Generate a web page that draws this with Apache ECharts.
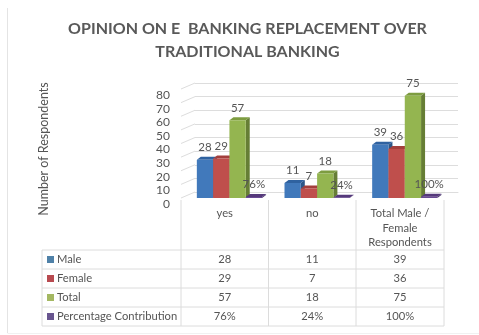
<!DOCTYPE html>
<html>
<head>
<meta charset="utf-8">
<style>html,body{margin:0;padding:0;background:#fff}#chart{width:479px;height:335px}</style>
<script src="https://cdn.jsdelivr.net/npm/echarts@6/dist/echarts.min.js"></script>
</head>
<body>
<div id="chart"></div>
<script>
const categories = ['yes', 'no', 'Total Male /\nFemale\nRespondents'];
const seriesNames = ['Male', 'Female', 'Total', 'Percentage Contribution'];
const male = [28, 11, 39];
const female = [29, 7, 36];
const total = [57, 18, 75];
// shares are stored as fractions, so on the respondents axis they sit almost on the floor
const share = [0.76, 0.24, 1];
const yTicks = [0, 10, 20, 30, 40, 50, 60, 70, 80];

const asPercent = v => Math.round(v * 100) + '%';

const FACE = ['#4179bb', '#bf4f4c', '#94b550', '#6a4a94'];
const SIDE = ['#2c5688', '#8a3633', '#667e35', '#46306a'];
const TOP = ['#2f62a0', '#a33f3c', '#7d9c40', '#55397b'];
const KEY = ['#4f81a8', '#b84a50', '#a4b862', '#68558f'];
const TEXT = '#555555';
const BORDER = '#dcdcdc';

// plot area of the front plane; the back wall is the same grid pushed up and right
const plot = { left: 181, right: 444, top: 89, bottom: 198 };
const wall = { dx: 14, dy: -6 };
const barDepth = { dx: 4, dy: -3 };

// table geometry
const tableX = [42, 181, 268.5, 356, 444];
const tableY = [250, 269, 288, 307, 326];
const barWidth = 16.3;

function bar3d(seriesIndex, values, format) {
  return {
    type: 'custom',
    name: seriesNames[seriesIndex],
    xAxisIndex: 0,
    yAxisIndex: 0,
    z: 5,
    clip: false,
    data: values.map((v, i) => [i, v, format(v)]),
    encode: { x: 0, y: 1 },
    renderItem(params, api) {
      const base = api.coord([api.value(0), 0]);
      const topPt = api.coord([api.value(0), api.value(1)]);
      const x0 = base[0] - 28 + seriesIndex * barWidth;
      const x1 = x0 + barWidth;
      const yb = base[1];
      const yt = topPt[1];
      const d = barDepth;
      return {
        type: 'group',
        children: [
          { type: 'polygon', shape: { points: [[x1, yt], [x1 + d.dx, yt + d.dy], [x1 + d.dx, yb + d.dy], [x1, yb]] }, style: { fill: SIDE[seriesIndex] } },
          { type: 'polygon', shape: { points: [[x0, yt], [x0 + d.dx, yt + d.dy], [x1 + d.dx, yt + d.dy], [x1, yt]] }, style: { fill: TOP[seriesIndex] } },
          { type: 'rect', shape: { x: x0, y: yt, width: barWidth, height: yb - yt }, style: { fill: FACE[seriesIndex] } },
          { type: 'text', z2: 10, style: { text: String(api.value(2)), x: x0 + barWidth / 2, y: yt - 12.5, align: 'center', verticalAlign: 'middle', fill: TEXT, font: '11.5px Lato' } }
        ]
      };
    }
  };
}

// diagonal floor ticks joining each front axis value to the back wall
const wallTicks = {
  type: 'custom',
  xAxisIndex: 0,
  yAxisIndex: 0,
  z: 1,
  silent: true,
  clip: false,
  data: yTicks.map(v => [0, v]),
  encode: { y: 1 },
  renderItem(params, api) {
    const y = api.coord([0, api.value(1)])[1];
    return {
      type: 'line',
      shape: { x1: plot.left, y1: y, x2: plot.left + wall.dx, y2: y + wall.dy },
      style: { stroke: '#dddddd', lineWidth: 1 }
    };
  }
};

const tableGraphics = [];
const addLine = (x1, y1, x2, y2, stroke = BORDER) => tableGraphics.push({
  type: 'line', silent: true,
  shape: { x1, y1, x2, y2 },
  style: { stroke, lineWidth: 1 }
});
tableY.forEach(y => addLine(tableX[0], y, tableX[4], y));
addLine(tableX[0], tableY[0], tableX[0], tableY[4]);
tableX.slice(1).forEach(x => addLine(x, 200, x, tableY[4]));
// thin frame along the left and bottom of the page
addLine(7.5, 8, 7.5, 333, '#e4e4e4');
addLine(7.5, 333.5, 479, 333.5, '#f1f1f1');

tableGraphics.push({
  type: 'text', silent: true, x: 44, y: 149, rotation: Math.PI / 2,
  style: { text: 'Number of Respondents', fill: TEXT, font: '12.5px Lato', align: 'center', verticalAlign: 'middle' }
});

const rows = [male, female, total, share.map(asPercent)];
rows.forEach((row, r) => {
  const cy = (tableY[r] + tableY[r + 1]) / 2;
  tableGraphics.push({ type: 'rect', silent: true, shape: { x: 47, y: cy - 3.5, width: 7, height: 7 }, style: { fill: KEY[r] } });
  tableGraphics.push({ type: 'text', silent: true, x: 57, y: cy, style: { text: seriesNames[r], fill: TEXT, font: '11.2px Lato', verticalAlign: 'middle' } });
  row.forEach((v, c) => {
    tableGraphics.push({ type: 'text', silent: true, x: (tableX[c + 1] + tableX[c + 2]) / 2, y: cy, style: { text: String(v), fill: TEXT, font: '11.2px Lato', align: 'center', verticalAlign: 'middle' } });
  });
});
categories.forEach((c, i) => {
  tableGraphics.push({ type: 'text', silent: true, x: (tableX[i + 1] + tableX[i + 2]) / 2, y: 206, style: { text: c, fill: TEXT, font: '11.2px Lato', lineHeight: 14.6, align: 'center', verticalAlign: 'top' } });
});

const chart = echarts.init(document.getElementById('chart'), null, { renderer: 'canvas' });
chart.setOption({
  animation: false,
  backgroundColor: '#ffffff',
  title: {
    text: 'OPINION ON E  BANKING REPLACEMENT OVER\nTRADITIONAL BANKING',
    left: 242.5, top: 13, textAlign: 'center',
    textStyle: { color: '#595959', fontFamily: 'Lato', fontWeight: 'bold', fontSize: 16, lineHeight: 22.5 }
  },
  grid: [
    { left: plot.left, right: 479 - plot.right, top: plot.top, height: plot.bottom - plot.top },
    { left: plot.left + wall.dx, right: 479 - plot.right - wall.dx, top: plot.top + wall.dy, height: plot.bottom - plot.top }
  ],
  xAxis: [
    { type: 'category', gridIndex: 0, data: categories, axisLine: { show: false }, axisTick: { show: false }, axisLabel: { show: false } },
    { type: 'category', gridIndex: 1, data: categories, axisLine: { lineStyle: { color: '#dddddd' } }, axisTick: { show: false }, axisLabel: { show: false } }
  ],
  yAxis: [
    {
      type: 'value', gridIndex: 0, min: 0, max: 80, interval: 10,
      axisLine: { show: false }, axisTick: { show: false }, splitLine: { show: false },
      axisLabel: { color: TEXT, fontFamily: 'Lato', fontSize: 12, margin: 11, verticalAlign: 'top', lineHeight: 12 }
    },
    {
      type: 'value', gridIndex: 1, min: 0, max: 80, interval: 10,
      axisLine: { show: false }, axisTick: { show: false }, axisLabel: { show: false },
      splitLine: { lineStyle: { color: '#dddddd', width: 1 } }
    }
  ],
  series: [
    wallTicks,
    bar3d(0, male, String),
    bar3d(1, female, String),
    bar3d(2, total, String),
    bar3d(3, share, asPercent)
  ],
  graphic: tableGraphics
});
</script>
</body>
</html>
